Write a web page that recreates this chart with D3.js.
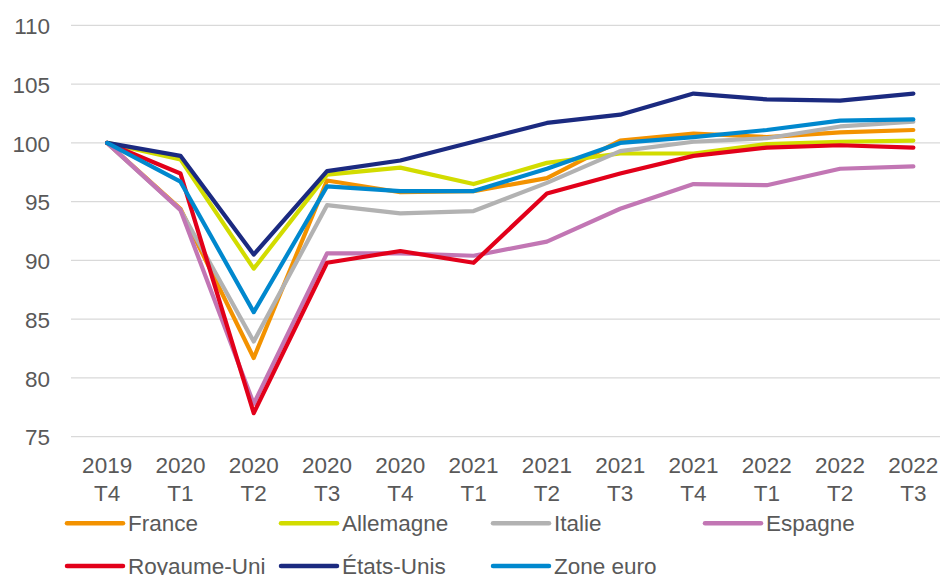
<!DOCTYPE html>
<html><head><meta charset="utf-8">
<script src="https://cdn.jsdelivr.net/npm/d3@7"></script>
<style>
html,body{margin:0;padding:0;background:#fff;}
svg{display:block;font-family:"Liberation Sans",Arial,sans-serif;}
</style></head>
<body>
<svg id="chart" width="940" height="575"></svg>
<script>
const quarters = ["2019 T4","2020 T1","2020 T2","2020 T3","2020 T4","2021 T1","2021 T2","2021 T3","2021 T4","2022 T1","2022 T2","2022 T3"];
const yTicks = [75,80,85,90,95,100,105,110];
const france     = [100, 94.4, 81.7, 96.8, 95.8, 95.9, 97.0, 100.2, 100.8, 100.5, 100.9, 101.1];
const allemagne  = [100, 98.6, 89.3, 97.3, 97.9, 96.5, 98.3, 99.1, 99.1, 99.9, 100.1, 100.2];
const italie     = [100, 94.3, 83.1, 94.7, 94.0, 94.2, 96.6, 99.3, 100.1, 100.4, 101.4, 101.8];
const espagne    = [100, 94.3, 77.8, 90.6, 90.6, 90.4, 91.6, 94.4, 96.5, 96.4, 97.8, 98.0];
const royaumeUni = [100, 97.4, 77.0, 89.8, 90.8, 89.8, 95.7, 97.4, 98.9, 99.6, 99.8, 99.6];
const etatsUnis  = [100, 98.9, 90.5, 97.6, 98.5, 100.1, 101.7, 102.4, 104.2, 103.7, 103.6, 104.2];
const zoneEuro   = [100, 96.7, 85.6, 96.3, 95.9, 95.9, 97.8, 100.0, 100.5, 101.1, 101.9, 102.0];

const seriesNames  = ["France","Allemagne","Italie","Espagne","Royaume-Uni","États-Unis","Zone euro"];
const seriesValues = [france, allemagne, italie, espagne, royaumeUni, etatsUnis, zoneEuro];
const seriesColors = ["#F39200","#D2DC00","#B2B2B2","#C276B4","#E2001A","#1B2A80","#0088CE"];

const svg = d3.select("#chart");
const x = d3.scaleBand().domain(quarters).range([70.5, 950]).padding(0);
const y = d3.scaleLinear().domain([75,110]).range([436.7, 25.4]);
const textColor = "#595959";

// gridlines
svg.append("g").selectAll("line").data(yTicks).join("line")
  .attr("x1", 71).attr("x2", 950)
  .attr("y1", d => y(d)).attr("y2", d => y(d))
  .attr("stroke", "#D9D9D9").attr("stroke-width", 1.3);

// y axis labels
const yAxis = d3.axisLeft(y).tickValues(yTicks).tickSize(0).tickPadding(0);
const gy = svg.append("g").attr("transform", "translate(50,0)").call(yAxis);
gy.select(".domain").remove();
gy.selectAll("text").attr("fill", textColor).attr("font-size", 22.5)
  .attr("font-family", "'Liberation Sans', Arial, sans-serif").attr("dy", "0.36em");

// x axis labels (two lines)
const xAxis = d3.axisBottom(x).tickSize(0).tickFormat("");
const gx = svg.append("g").attr("transform", "translate(0,436.7)").call(xAxis);
gx.select(".domain").remove();
gx.selectAll(".tick").each(function(d){
  const parts = d.split(" ");
  const t = d3.select(this).append("text")
    .attr("fill", textColor).attr("font-size", 22.5)
    .attr("font-family", "'Liberation Sans', Arial, sans-serif")
    .attr("text-anchor", "middle");
  t.append("tspan").attr("x", 0).attr("y", 36.6).text(parts[0]);
  t.append("tspan").attr("x", 0).attr("y", 64.3).text(parts[1]);
});

// lines
const line = d3.line()
  .x((d, i) => x(quarters[i]) + x.bandwidth() / 2)
  .y(d => y(d));
svg.append("g").selectAll("path").data(seriesValues).join("path")
  .attr("d", d => line(d))
  .attr("fill", "none")
  .attr("stroke", (d, i) => seriesColors[i])
  .attr("stroke-width", 4.2)
  .attr("stroke-linejoin", "round")
  .attr("stroke-linecap", "round");

// legend
const legendCols = [67, 281, 493, 705];
const legendRows = [523.3, 566];
const lg = svg.append("g").selectAll("g").data(seriesNames).join("g")
  .attr("transform", (d, i) => `translate(${legendCols[i % 4]},${legendRows[Math.floor(i / 4)]})`);
lg.append("line").attr("x1", 0).attr("x2", 56).attr("y1", 0).attr("y2", 0)
  .attr("stroke", (d, i) => seriesColors[i]).attr("stroke-width", 4.5)
  .attr("stroke-linecap", "round");
lg.append("text").attr("x", 61).attr("y", 0).attr("dy", "0.36em")
  .attr("fill", textColor).attr("font-size", 22.5)
  .text(d => d);
</script>
</body></html>
